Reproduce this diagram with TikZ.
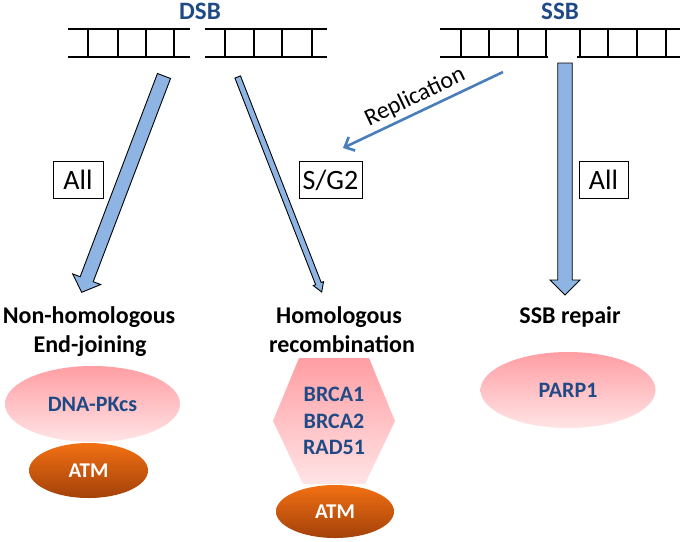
\documentclass[tikz,border=0pt]{standalone}
\usepackage{fontspec}
\setmainfont{Carlito}
\usetikzlibrary{calc,shapes.geometric,arrows.meta}
\definecolor{arrowblue}{HTML}{8DB4E2}
\definecolor{repblue}{HTML}{4A7EBB}
\definecolor{protblue}{HTML}{1F4A85}
\definecolor{pinktop}{HTML}{FF9EA3}
\definecolor{pinkbot}{HTML}{FFE4E6}
\definecolor{orangetop}{HTML}{F27013}
\definecolor{orangebot}{HTML}{A3410A}
\newcommand\myfatarrow[5]{%
  \coordinate (H) at ($(#2)!#5!(#1)$);
  \draw[barrow] ($(#1)!#3!90:(#2)$) -- ($(H)!#3!-90:(#1)$) -- ($(H)!#4!-90:(#1)$) -- (#2)
    -- ($(H)!#4!90:(#1)$) -- ($(H)!#3!90:(#1)$) -- ($(#1)!#3!-90:(#2)$) -- cycle;}
\begin{document}
\begin{tikzpicture}[x=1pt,y=-1pt,
  ladder/.style={line width=2.6pt, black},
  barrow/.style={draw=black, line width=0.9pt, fill=arrowblue, line join=miter},
  lab/.style={font=\bfseries\fontsize{24}{28}\selectfont, anchor=base},
  toplab/.style={font=\bfseries\fontsize{25}{28}\selectfont, anchor=base, text=protblue},
  boxlab/.style={draw, line width=1pt, font=\fontsize{28}{32}\selectfont, minimum height=37pt, inner sep=0pt},
  pinkell/.style={ellipse, top color=pinktop, bottom color=pinkbot, minimum width=175pt, minimum height=76pt, inner sep=0pt, font=\bfseries\fontsize{22}{26}\selectfont, text=protblue},
  atmell/.style={ellipse, top color=orangetop, bottom color=orangebot, inner sep=0pt, font=\bfseries\fontsize{21}{25}\selectfont, text=white},
]
\useasboundingbox (0,0) rectangle (685,541);

% ladders
\draw[ladder] (68,29) -- (190,29) (68,57) -- (190,57);
\foreach \x in {88,118,146,174} \draw[ladder] (\x,29) -- (\x,57);
\draw[ladder] (205,29) -- (327,29) (205,57) -- (327,57);
\foreach \x in {225,254,282,312} \draw[ladder] (\x,29) -- (\x,57);
\draw[ladder] (440,29) -- (680,29) (440,57) -- (548,57) (577,57) -- (680,57);
\foreach \x in {461,489,518,546,580,608,637,666} \draw[ladder] (\x,29) -- (\x,57);

\node[toplab] (dsb) at (200,19.5) {DSB};
\node[toplab] (ssb) at (560,19.5) {SSB};

% labels
\node[lab] (nhej1) at (89,323) {Non-homologous};
\node[lab] (nhej2) at (90,352) {End-joining};
\node[lab] (hr1) at (339,323) {Homologous};
\node[lab] (hr2) at (342,352) {recombination};
\node[lab] (ssbr) at (570,323) {SSB repair};

% arrows
\coordinate (a1s) at (164,76);
\coordinate (a1t) at (81.7,292.3);
\coordinate (a2s) at (237.7,77);
\coordinate (a2t) at (321.7,292);
\coordinate (a3s) at (565,63);
\coordinate (a3t) at (565,295);
\myfatarrow{a1s}{a1t}{7pt}{15pt}{14pt}
\myfatarrow{a2s}{a2t}{3pt}{5.5pt}{9pt}
\myfatarrow{a3s}{a3t}{7.25pt}{15pt}{15pt}

% replication
\coordinate (reps) at (503,72);
\coordinate (rept) at (343,148);
\draw[repblue, line width=2.6pt, -{Straight Barb[length=8pt,width=15pt,line width=2.6pt]}] (reps) -- (rept);
\node[rotate=25.5, font=\fontsize{24}{28}\selectfont] (replab) at (415,97) {Replication};

% boxes
\node[boxlab, minimum width=50pt] (all1) at (78,180) {All};
\node[boxlab, minimum width=63pt] (sg2) at (330.5,180) {S/G2};
\node[boxlab, minimum width=49pt] (all2) at (603.5,180) {All};

% proteins
\node[pinkell] (dnapk) at (92.5,404) {DNA-PKcs};
\node[atmell, minimum width=119pt, minimum height=55pt] (atm1) at (88.5,470.5) {ATM};
\node[pinkell] (parp) at (568,390) {PARP1};
\shade[top color=pinktop, bottom color=pinkbot] (299,358) -- (369,358) -- (395,421) -- (365,484) -- (303,484) -- (273,421) -- cycle;
\node[align=center, font=\bfseries\fontsize{22}{26.7}\selectfont, text=protblue] (hrprot) at (334,421) {BRCA1\\BRCA2\\RAD51};
\node[atmell, minimum width=118pt, minimum height=53pt] (atm2) at (335,511.5) {ATM};
\end{tikzpicture}
\end{document}
